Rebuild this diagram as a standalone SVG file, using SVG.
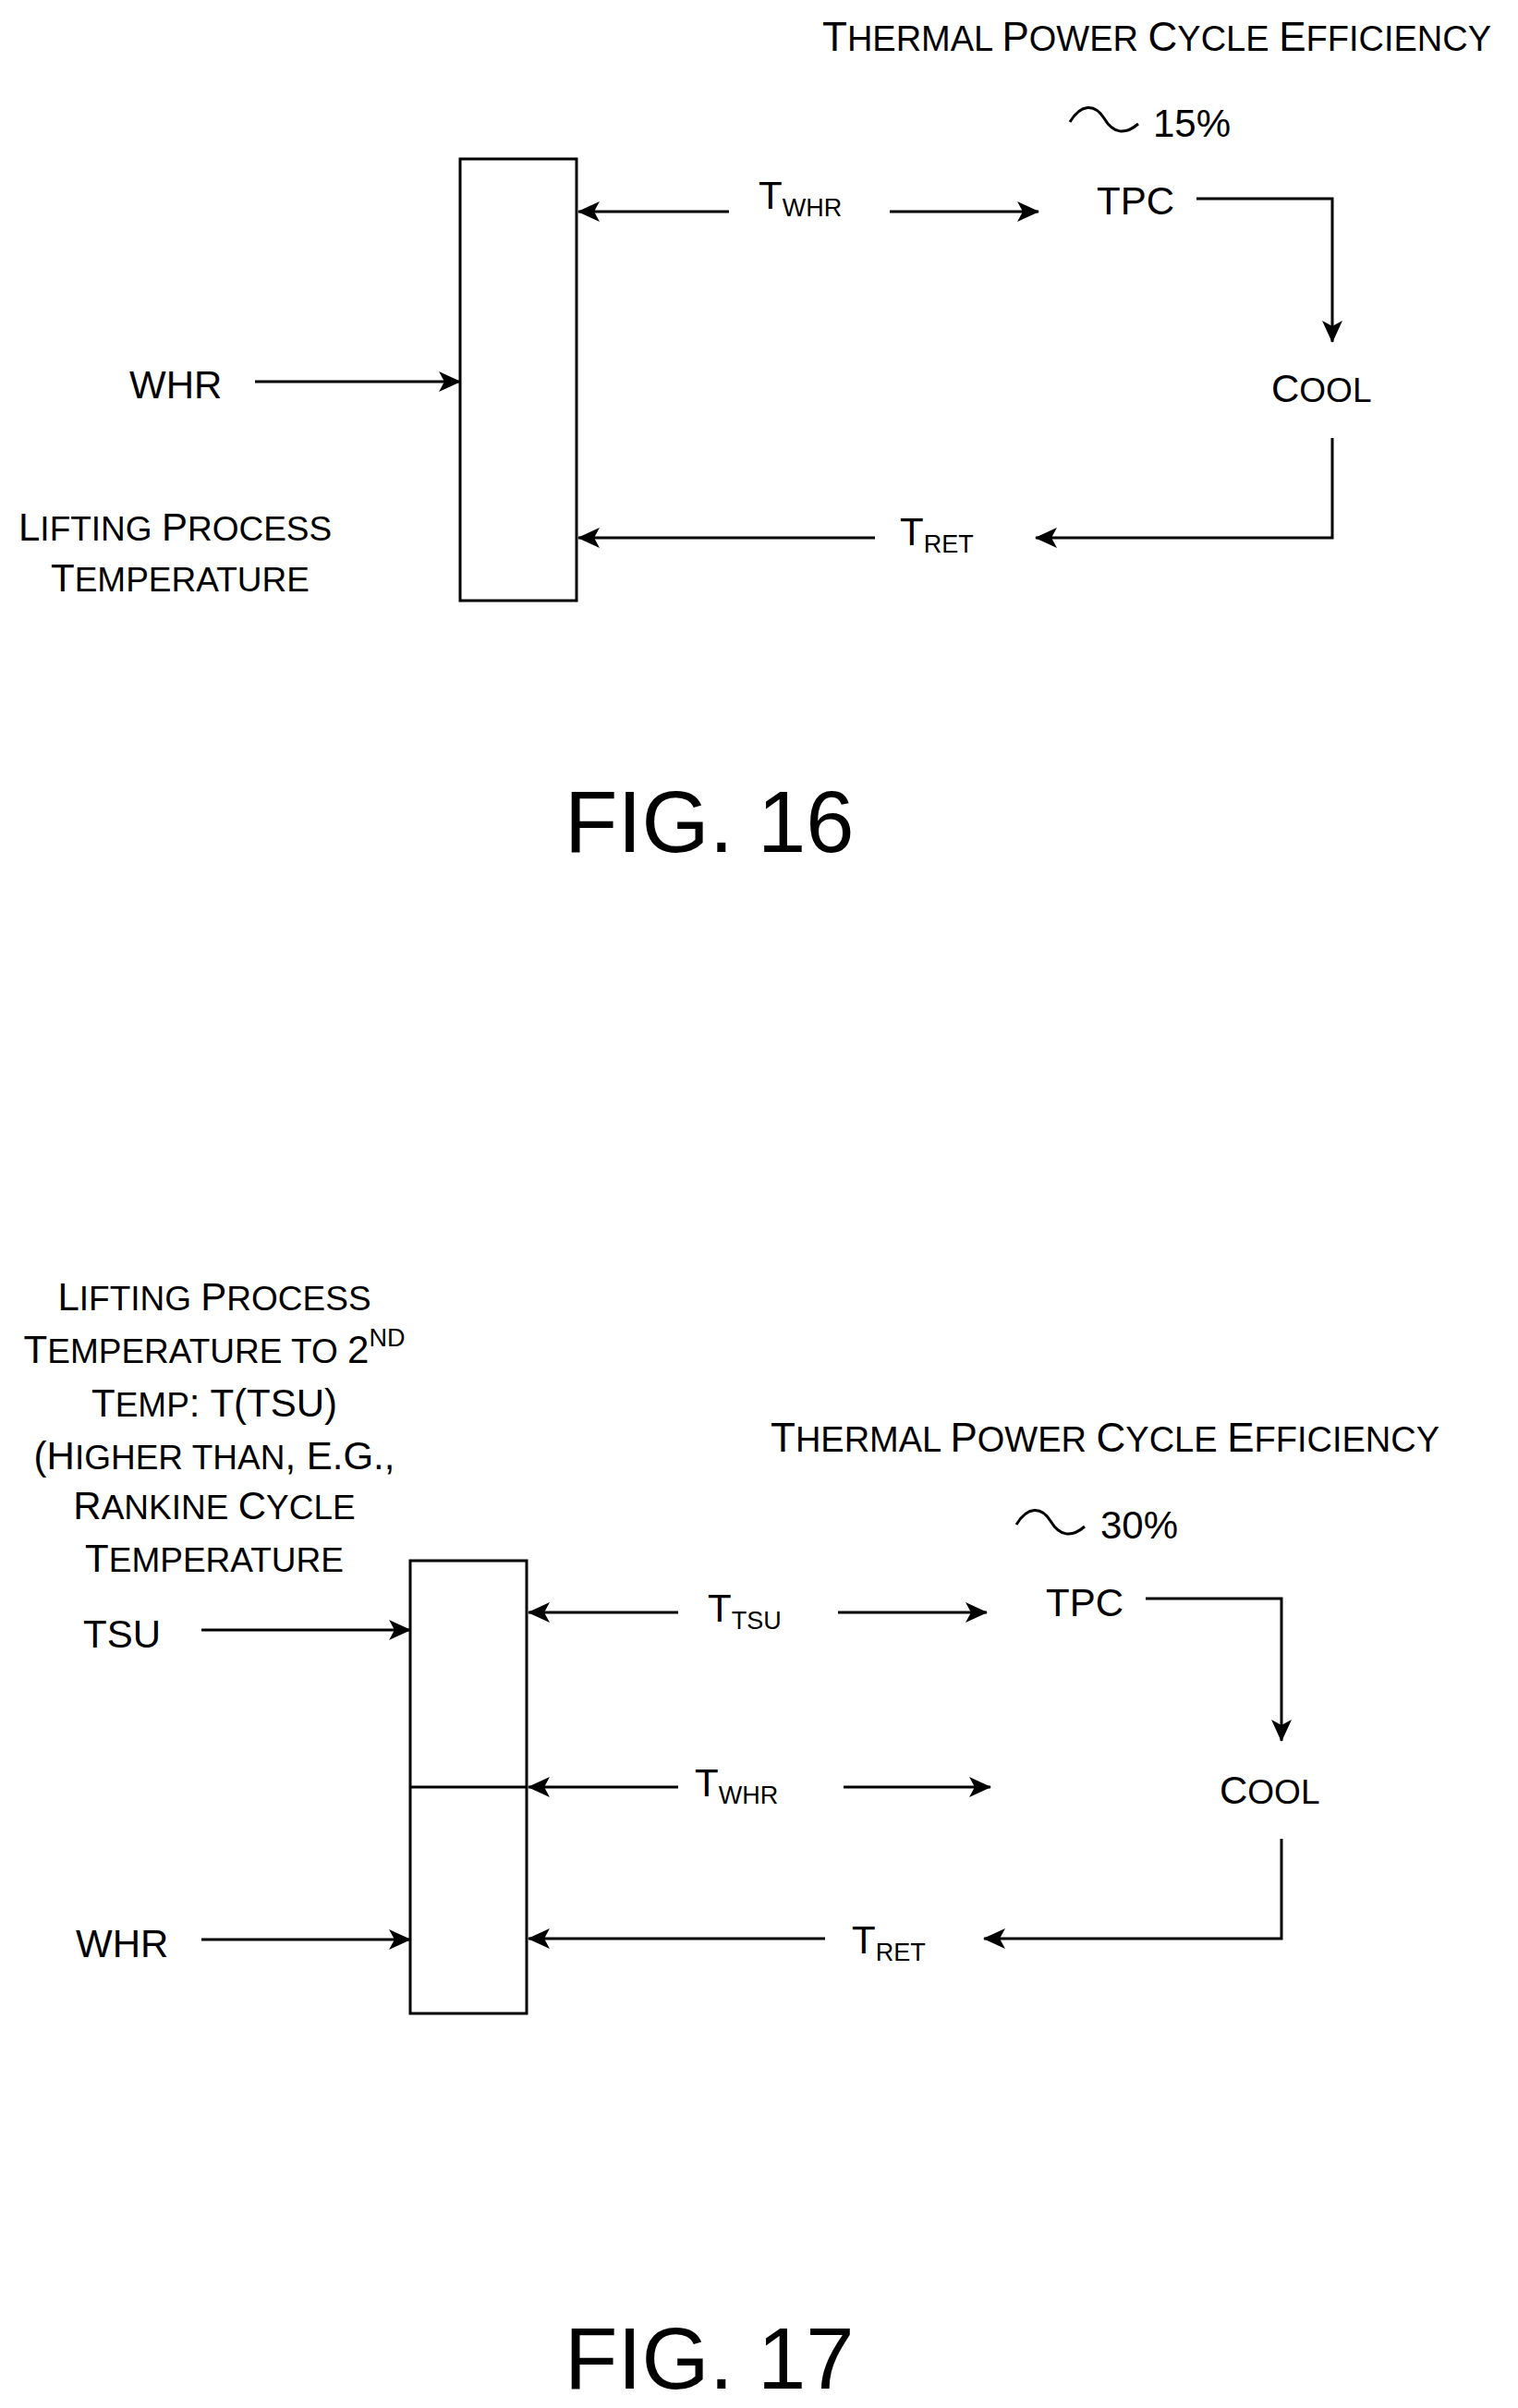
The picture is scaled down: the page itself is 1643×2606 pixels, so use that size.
<svg xmlns="http://www.w3.org/2000/svg" width="1643" height="2606" viewBox="0 0 1643 2606">
<style>
text{font-family:"Liberation Sans",Arial,sans-serif;fill:#000}
.t{font-size:42px}.s{font-size:37px}.sub{font-size:27px}
.h{font-size:44px}.hs{font-size:38px}
.fig{font-size:94px}
.ln{stroke:#000;stroke-width:3;fill:none}
.box{stroke:#000;stroke-width:3;fill:#fff}
</style>
<defs>
<marker id="a" viewBox="0 0 24 24" refX="23" refY="12" markerWidth="24" markerHeight="24" markerUnits="userSpaceOnUse" orient="auto">
<path d="M0,1 L24,12 L0,23 L6,12 Z" fill="#000"/>
</marker>
</defs>
<g id="fig16">
<g id="box16"><rect class="box" x="498" y="172" width="126" height="478"/></g>
<g id="title16"><text class="h" x="890" y="55">T<tspan class="hs">HERMAL </tspan>P<tspan class="hs">OWER </tspan>C<tspan class="hs">YCLE </tspan>E<tspan class="hs">FFICIENCY</tspan></text></g>
<g id="eff16"><path class="ln" stroke-width="2" d="M1158,132 C1170,112 1185,112 1195,128 C1205,145 1218,146 1232,134"/><text class="t" x="1248" y="148">15%</text></g>
<g id="tpc16"><text class="t" x="1187" y="232">TPC</text></g>
<g id="cool16"><text class="t" x="1376" y="435">C<tspan class="s">OOL</tspan></text></g>
<g id="whr16"><text class="t" x="140" y="431">WHR</text></g>
<g id="lift16"><text class="t" x="20" y="585">L<tspan class="s">IFTING </tspan>P<tspan class="s">ROCESS</tspan></text><text class="t" x="55" y="640">T<tspan class="s">EMPERATURE</tspan></text></g>
<g id="twhr16"><text class="t" x="821" y="226">T<tspan class="sub" dy="8">WHR</tspan></text></g>
<g id="tret16"><text class="t" x="974" y="590">T<tspan class="sub" dy="8">RET</tspan></text></g>
<text class="fig" x="611" y="922">FIG. 16</text>
</g>
<g id="fig17">
<g id="box17"><rect class="box" x="444" y="1689" width="126" height="490"/><line class="ln" x1="444" y1="1934" x2="570" y2="1934"/></g>
<g id="lift17" text-anchor="middle">
<text class="t" x="232" y="1418">L<tspan class="s">IFTING </tspan>P<tspan class="s">ROCESS</tspan></text>
<text class="t" x="232" y="1475">T<tspan class="s">EMPERATURE TO </tspan>2<tspan class="sub" dy="-18">ND</tspan></text>
<text class="t" x="232" y="1533">T<tspan class="s">EMP</tspan>: T(TSU)</text>
<text class="t" x="232" y="1590">(H<tspan class="s">IGHER THAN</tspan>, E.G.,</text>
<text class="t" x="232" y="1644">R<tspan class="s">ANKINE </tspan>C<tspan class="s">YCLE</tspan></text>
<text class="t" x="232" y="1701">T<tspan class="s">EMPERATURE</tspan></text>
</g>
<g id="title17"><text class="h" x="834" y="1571">T<tspan class="hs">HERMAL </tspan>P<tspan class="hs">OWER </tspan>C<tspan class="hs">YCLE </tspan>E<tspan class="hs">FFICIENCY</tspan></text></g>
<g id="eff17"><path class="ln" stroke-width="2" d="M1100,1650 C1112,1630 1127,1630 1137,1646 C1147,1663 1160,1664 1174,1652"/><text class="t" x="1191" y="1665">30%</text></g>
<g id="tpc17"><text class="t" x="1132" y="1749">TPC</text></g>
<g id="cool17"><text class="t" x="1320" y="1952">C<tspan class="s">OOL</tspan></text></g>
<g id="tsu17"><text class="t" x="90" y="1783">TSU</text></g>
<g id="whr17"><text class="t" x="82" y="2118">WHR</text></g>
<g id="ttsu17"><text class="t" x="766" y="1755">T<tspan class="sub" dy="8">TSU</tspan></text></g>
<g id="twhr17"><text class="t" x="752" y="1944">T<tspan class="sub" dy="8">WHR</tspan></text></g>
<g id="tret17"><text class="t" x="922" y="2114">T<tspan class="sub" dy="8">RET</tspan></text></g>
<text class="fig" x="611" y="2585">FIG. 17</text>
</g>
<g id="connectors">
<line class="ln" x1="789" y1="229" x2="626" y2="229" marker-end="url(#a)"/>
<line class="ln" x1="963" y1="229" x2="1124" y2="229" marker-end="url(#a)"/>
<polyline class="ln" points="1295,215 1442,215 1442,370" marker-end="url(#a)"/>
<polyline class="ln" points="1442,474 1442,582 1121,582" marker-end="url(#a)"/>
<line class="ln" x1="947" y1="582" x2="626" y2="582" marker-end="url(#a)"/>
<line class="ln" x1="276" y1="413" x2="498" y2="413" marker-end="url(#a)"/>
<line class="ln" x1="218" y1="1764" x2="444" y2="1764" marker-end="url(#a)"/>
<line class="ln" x1="218" y1="2099" x2="444" y2="2099" marker-end="url(#a)"/>
<line class="ln" x1="734" y1="1745" x2="572" y2="1745" marker-end="url(#a)"/>
<line class="ln" x1="907" y1="1745" x2="1068" y2="1745" marker-end="url(#a)"/>
<polyline class="ln" points="1240,1730 1387,1730 1387,1884" marker-end="url(#a)"/>
<line class="ln" x1="734" y1="1934" x2="572" y2="1934" marker-end="url(#a)"/>
<line class="ln" x1="913" y1="1934" x2="1072" y2="1934" marker-end="url(#a)"/>
<polyline class="ln" points="1387,1990 1387,2098 1065,2098" marker-end="url(#a)"/>
<line class="ln" x1="893" y1="2098" x2="572" y2="2098" marker-end="url(#a)"/>
</g>
</svg>
